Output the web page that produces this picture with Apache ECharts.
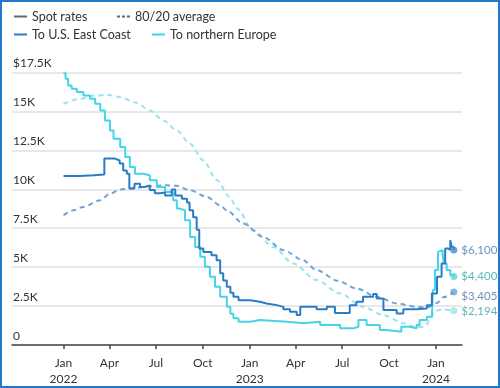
<!DOCTYPE html>
<html><head><meta charset="utf-8">
<script src="https://cdn.jsdelivr.net/npm/echarts@6/dist/echarts.min.js"></script>
<style>
html,body{margin:0;padding:0;background:#fff}
#c{width:500px;height:388px}
#frame{position:absolute;left:0;top:0;width:500px;height:388px;box-sizing:border-box;border:2px solid #2079cc;pointer-events:none}
</style>
</head><body><div id="c"></div><div id="frame"></div>
<script>
const tickDates = ['2022-01-01','2022-04-01','2022-07-01','2022-10-01','2023-01-01','2023-04-01','2023-07-01','2023-10-01','2024-01-01'];
const monthNames = ['Jan','Feb','Mar','Apr','May','Jun','Jul','Aug','Sep','Oct','Nov','Dec'];
const yTicks = [0,2500,5000,7500,10000,12500,15000,17500];

const eastSpot = [
['2022-01-01',10850],['2022-02-01',10900],['2022-03-01',10950],['2022-03-22',11970],['2022-04-12',11850],
['2022-04-21',11650],['2022-04-28',11200],['2022-05-05',11000],['2022-05-10',10050],['2022-05-20',10350],
['2022-05-31',10150],['2022-06-09',10250],['2022-06-19',9950],['2022-06-29',9750],['2022-07-09',9800],
['2022-07-19',9600],['2022-08-01',9980],['2022-08-08',9600],['2022-08-21',9400],['2022-08-31',9150],
['2022-09-05',8650],['2022-09-12',8200],['2022-09-19',7400],['2022-09-24',6200],['2022-10-02',5980],
['2022-10-18',5770],['2022-10-28',5450],['2022-11-04',4600],['2022-11-10',4150],['2022-11-17',3740],
['2022-11-24',3350],['2022-11-30',3100],['2022-12-10',2880],['2023-01-02',2780],['2023-01-21',2670],
['2023-02-03',2560],['2023-02-23',2450],['2023-03-08',2300],['2023-03-21',2130],['2023-04-03',1920],
['2023-04-10',2450],['2023-05-12',2290],['2023-06-01',2450],['2023-06-17',2050],['2023-07-03',2050],
['2023-07-16',2560],['2023-07-29',2780],['2023-08-11',3100],['2023-08-31',3270],['2023-09-07',2990],
['2023-09-20',2240],['2023-10-16',2030],['2023-10-29',2290],['2023-11-24',2350],['2023-12-14',2560],
['2023-12-24',3310],['2024-01-03',4380],['2024-01-12',5240],['2024-01-19',6200],['2024-01-25',6100],
['2024-01-29',6730],['2024-02-01',6300],['2024-02-05',6100]
];
const europeSpot = [
['2022-01-01',17450],['2022-01-05',17100],['2022-01-10',16670],['2022-01-17',16450],['2022-01-27',16240],
['2022-02-09',16020],['2022-02-22',15810],['2022-03-04',15490],['2022-03-14',15060],['2022-03-23',14420],
['2022-04-02',13780],['2022-04-09',13250],['2022-04-22',12710],['2022-05-02',12070],['2022-05-11',11430],
['2022-05-21',11000],['2022-06-06',10900],['2022-06-19',10580],['2022-07-03',10150],['2022-07-19',9830],
['2022-08-04',9290],['2022-08-11',8760],['2022-08-17',8650],['2022-08-27',8010],['2022-09-06',6940],
['2022-09-16',6300],['2022-09-26',5660],['2022-10-05',5020],['2022-10-15',4380],['2022-10-25',3740],
['2022-11-04',3100],['2022-11-17',2450],['2022-11-24',2000],['2022-11-30',1710],['2022-12-10',1490],
['2023-01-02',1600],['2023-01-21',1490],['2023-03-15',1390],['2023-04-16',1490],['2023-05-19',1280],
['2023-06-27',1070],['2023-07-23',1170],['2023-08-02',1600],['2023-08-18',1280],['2023-09-13',960],
['2023-09-26',850],['2023-10-25',1170],['2023-11-10',1070],['2023-11-24',1280],['2023-11-30',1600],
['2023-12-14',1810],['2023-12-24',1900],['2023-12-26',3530],['2023-12-30',4810],['2024-01-05',5980],
['2024-01-08',6090],['2024-01-14',5880],['2024-01-16',5240],['2024-01-22',4810],['2024-01-29',4490],
['2024-02-05',4400]
];
const eastAvg = [
['2022-01-01',8330],['2022-01-20',8650],['2022-02-09',8870],['2022-03-14',9290],['2022-04-02',9720],
['2022-04-22',9980],['2022-05-15',10060],['2022-06-19',10190],['2022-07-22',10260],['2022-08-11',10220],
['2022-09-06',9940],['2022-10-09',9510],['2022-11-04',8970],['2022-11-17',8650],['2022-12-19',7800],
['2023-01-27',6940],['2023-03-08',6090],['2023-04-15',5450],['2023-05-12',4810],['2023-06-23',4120],
['2023-07-29',3630],['2023-09-07',3100],['2023-10-16',2670],['2023-11-24',2450],['2023-12-14',2400],
['2024-01-03',2700],['2024-01-15',3060],['2024-02-05',3405]
];
const europeAvg = [
['2022-01-01',15490],['2022-02-02',15810],['2022-03-04',16020],['2022-03-27',16070],['2022-04-22',15920],
['2022-05-24',15550],['2022-06-19',15060],['2022-07-16',14420],['2022-08-11',13780],['2022-09-06',12930],
['2022-10-02',11860],['2022-10-28',10600],['2022-11-23',9510],['2022-12-06',8800],['2023-01-08',7370],
['2023-02-16',6300],['2023-03-27',5240],['2023-05-12',4170],['2023-06-27',3310],['2023-08-11',2450],
['2023-09-20',1920],['2023-10-29',1390],['2023-11-24',1150],['2023-12-10',1170],['2023-12-20',1600],
['2023-12-30',2200],['2024-01-15',2290],['2024-02-05',2194]
];

const C_EAST = '#2a7cc7', C_EUR = '#45d4e6', C_EAST_AVG = '#6ea3d6', C_EUR_AVG = '#9ae4ef';
const FONT = 'Lato';
const pd = s => echarts.number.parseDate(s).getTime();
const toXY = arr => arr.map(d => [pd(d[0]), d[1]]);
const tickVals = tickDates.map(pd);
const last = a => a[a.length - 1];
const money = v => '$' + v.toLocaleString('en-US');

const chart = echarts.init(document.getElementById('c'), null, {renderer:'canvas'});
const legendBase = {itemWidth:13, itemHeight:2, textStyle:{color:'#333', fontFamily:FONT, fontSize:12.5}, selectedMode:false, padding:0};
const dashIcon = 'path://M0,0H3V2H0Z M5,0H8V2H5Z M10,0H13V2H10Z';
chart.setOption({
  animation:false,
  backgroundColor:'#fff',
  grid:{left:12, right:38, top:72.5, bottom:43, containLabel:false},
  legend:[
    Object.assign({left:14, top:10, data:[{name:'Spot rates', icon:'rect'}]}, legendBase),
    Object.assign({left:117, top:10, data:[{name:'80/20 average', icon:dashIcon}]}, legendBase),
    Object.assign({left:14, top:28, data:[{name:'To U.S. East Coast', icon:'rect'}]}, legendBase),
    Object.assign({left:152, top:28, data:[{name:'To northern Europe', icon:'rect'}]}, legendBase)
  ],
  xAxis:{
    type:'value', min:pd('2021-09-22'), max:pd('2024-02-21'), scale:true,
    axisLine:{lineStyle:{color:'#444', width:1.5}},
    axisTick:{show:true, customValues:tickVals, length:4, lineStyle:{color:'#444', width:1.5}},
    axisLabel:{customValues:tickVals, color:'#333', fontFamily:FONT, fontSize:12, lineHeight:16, margin:10,
      formatter:function(v){ const d = new Date(v); const m = d.getMonth();
        return m === 0 ? monthNames[m] + '\n' + d.getFullYear() : monthNames[m]; }},
    splitLine:{show:false}
  },
  yAxis:{
    type:'value', min:0, max:17500, interval:2500,
    axisLine:{show:false}, axisTick:{show:false},
    splitLine:{lineStyle:{color:'#e0e0e0', width:1.5}},
    axisLabel:{inside:true, margin:1, verticalAlign:'bottom', padding:[0,0,3,0], color:'#333', fontFamily:FONT, fontSize:12,
      formatter:function(v){ if (v === 0) return '0'; const s = (v/1000) + 'K'; return v === yTicks[yTicks.length-1] ? '$' + s : s; }}
  },
  series:[
    {name:'Spot rates', type:'line', data:[], color:'#666'},
    {name:'80/20 average', type:'line', data:[], color:'#666'},
    {name:'Europe 80/20', type:'line', data:toXY(europeAvg), smooth:0.3, smoothMonotone:'x', symbol:'none', color:C_EUR_AVG,
      lineStyle:{color:C_EUR_AVG, width:2, type:[5,4]}, z:2},
    {name:'East Coast 80/20', type:'line', data:toXY(eastAvg), smooth:0.3, smoothMonotone:'x', symbol:'none', color:C_EAST_AVG,
      lineStyle:{color:C_EAST_AVG, width:2, type:[5,4]}, z:2},
    {name:'To northern Europe', type:'line', data:toXY(europeSpot), step:'end', symbol:'none', color:C_EUR,
      lineStyle:{color:C_EUR, width:2}, z:3},
    {name:'To U.S. East Coast', type:'line', data:toXY(eastSpot), step:'end', symbol:'none', color:C_EAST,
      lineStyle:{color:C_EAST, width:2}, z:4},
    {name:'ends', type:'scatter', symbolSize:7, z:5,
      label:{show:true, position:'right', distance:4, fontFamily:FONT, fontSize:11.5, formatter:p => money(p.value[1])},
      data:[
        {value:toXY([last(eastSpot)])[0], itemStyle:{color:'#4a8bcc'}, label:{color:'#3d7bb8'}},
        {value:toXY([last(europeSpot)])[0], itemStyle:{color:'#5cd6e6'}, label:{color:'#2fa8b0'}},
        {value:toXY([last(eastAvg)])[0], itemStyle:{color:'#6ea3d6'}, label:{color:'#4a74a6', offset:[0,4]}},
        {value:toXY([last(europeAvg)])[0], itemStyle:{color:'#9ae4ef'}, label:{color:'#36a3a6'}}
      ]}
  ]
});
</script>
</body></html>
